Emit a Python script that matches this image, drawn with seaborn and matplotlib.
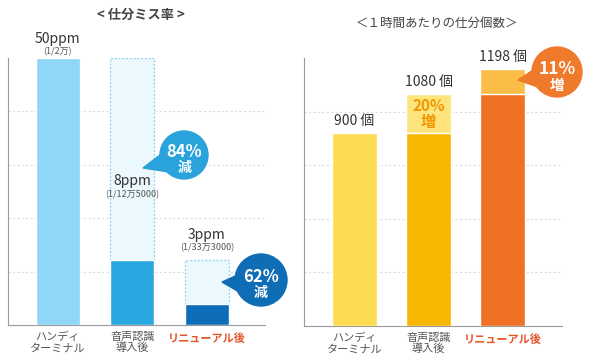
import matplotlib
matplotlib.use("Agg")
import matplotlib.pyplot as plt
import matplotlib.patches as mpatches
import matplotlib.transforms as mtransforms
import pandas as pd
import seaborn as sns

# --- data ---------------------------------------------------------------
categories = ["ハンディ\nターミナル", "音声認識\n導入後", "リニューアル後"]

# miss rate panel (bar heights as drawn, labels as printed)
miss_heights = [50, 12.2, 3.9]
miss_ghost = [0, 50, 12.2]
miss_labels = ["50ppm", "8ppm", "3ppm"]
miss_sub = ["(1/2万)", "(1/12万5000)", "(1/33万3000)"]
miss_cuts = ["84%\n減", "62%\n減"]

# pieces per hour panel
count_values = [900, 1080, 1198]
count_base = [900, 900, 1080]
count_labels = ["900 個", "1080 個", "1198 個"]
count_gains = ["20%\n増", "11%\n増"]

sns.set_theme(style="white")
plt.rcParams["font.family"] = ["Noto Sans CJK JP", "DejaVu Sans"]

fig = plt.figure(figsize=(6, 3.64), dpi=100)
px = mtransforms.Affine2D().scale(1 / 100) + fig.dpi_scale_trans


def P(x, y):
    # pixel position measured from the top-left corner
    return (x, 364 - y)


def style_axes(ax, ymax, grid):
    ax.set_ylim(0, ymax)
    for y in grid:
        ax.axhline(y, color="#dcdcdc", lw=0.8, ls=(0, (2, 2)), zorder=0)
    for s in ["top", "right"]:
        ax.spines[s].set_visible(False)
    ax.spines["left"].set_color("#9a9a9a")
    ax.spines["bottom"].set_color("#9a9a9a")
    ax.spines["left"].set_linewidth(0.8)
    ax.spines["bottom"].set_linewidth(0.8)
    ax.set_yticks([])
    ax.set_xlabel("")
    ax.set_ylabel("")
    ax.tick_params(axis="x", length=0, pad=5)
    ax.set_xticks([0, 1, 2])
    ax.set_xticklabels(categories, fontsize=8, color="#555555", linespacing=1.1)
    lab = ax.get_xticklabels()[2]
    lab.set_color("#e5552a")
    lab.set_fontweight("bold")


def bubble(center, r, tip, color, text, fs=12):
    cx, cy = P(*center)
    tx, ty = P(*tip)
    # tail
    tail = mpatches.Polygon([(tx, ty), (cx - r * 0.55, cy + r * 0.35), (cx - r * 0.35, cy - r * 0.75)],
                            closed=True, color=color, transform=px, zorder=5)
    fig.add_artist(tail)
    fig.add_artist(mpatches.Circle((cx, cy), r, color=color, transform=px, zorder=6))
    pct, kanji = text.split("\n")
    fig.text(cx / 600, (cy + 3) / 364, pct, ha="center", va="center", color="white",
             fontsize=fs, fontweight="bold", zorder=7)
    fig.text(cx / 600, (cy - 13) / 364, kanji, ha="center", va="center", color="white",
             fontsize=fs - 2, fontweight="bold", zorder=7)


# --- left panel: miss rate ---------------------------------------------
ax1 = fig.add_axes([8 / 600, 39 / 364, 257 / 600, 267 / 364])
df_miss = pd.DataFrame({"cat": categories, "h": miss_heights, "ghost": miss_ghost})
sns.barplot(data=df_miss, x="cat", y="ghost", ax=ax1, width=0.59, color="#ebf8fd",
            edgecolor="#8fd0ea", linewidth=0.9, linestyle=(0, (1.5, 1.5)), saturation=1, zorder=2)
sns.barplot(data=df_miss, x="cat", y="h", hue="cat", ax=ax1, width=0.59, legend=False,
            palette=["#8fd7f7", "#2aa6e0", "#0d6db8"], saturation=1, zorder=3)
ax1.set_xlim(-0.67, 2.78)
style_axes(ax1, 50, [10, 20, 30, 40])

# label offsets (points) above each reference height
label_offsets = [(9, 1.5), (52, 44), (13, 5.5)]
for i, (lab, sub) in enumerate(zip(miss_labels, miss_sub)):
    top = max(miss_ghost[i], miss_heights[i]) if i != 1 else miss_heights[i]
    off_main, off_sub = label_offsets[i]
    ax1.annotate(lab, (i, top), xytext=(0, off_main), textcoords="offset points", ha="center",
                 va="bottom", fontsize=10, color="#333333")
    ax1.annotate(sub, (i, top), xytext=(0, off_sub), textcoords="offset points", ha="center",
                 va="bottom", fontsize=6.5, color="#555555")

bubble((184, 155), 24, (143, 168), "#2aa3dd", miss_cuts[0])
bubble((261, 280), 26, (222, 282), "#0f6db5", miss_cuts[1])

fig.text(141 / 600, 1 - 15 / 364, "< 仕分ミス率 >", ha="center", va="center",
         fontsize=9.5, fontweight="bold", color="#444444")

# --- right panel: pieces per hour ---------------------------------------
ax2 = fig.add_axes([304 / 600, 38 / 364, 258 / 600, 268 / 364])
df_cnt = pd.DataFrame({"cat": categories, "v": count_values, "base": count_base})
sns.barplot(data=df_cnt, x="cat", y="v", hue="cat", ax=ax2, width=0.6, legend=False,
            palette=["#fddc52", "#fde47c", "#fbbd46"], saturation=1, zorder=2)
sns.barplot(data=df_cnt, x="cat", y="base", hue="cat", ax=ax2, width=0.6, legend=False,
            palette=["#fddc52", "#f7b600", "#f07024"], saturation=1, zorder=3)
ax2.set_xlim(-0.68, 2.8)
style_axes(ax2, 1250, [250, 500, 750, 1000])

for i in (1, 2):
    ax2.hlines(count_base[i], i - 0.3, i + 0.3, colors="white", lw=0.9,
               linestyles=(0, (2, 1.5)), alpha=0.8, zorder=4)

for i, (lab, v) in enumerate(zip(count_labels, count_values)):
    ax2.annotate(lab, (i, v), xytext=(0, 4), textcoords="offset points", ha="center",
                 va="bottom", fontsize=10, color="#333333")

ax2.text(1, (count_values[1] + count_base[1]) / 2, count_gains[0], ha="center", va="center",
         fontsize=11, fontweight="bold", color="#f29600", linespacing=1.0, zorder=5)

bubble((557, 72), 25, (518, 80), "#f07a2c", count_gains[1], fs=12.5)

fig.text(437 / 600, 1 - 23 / 364, "＜１時間あたりの仕分個数＞", ha="center", va="center",
         fontsize=9, color="#444444")

fig.savefig("out.png", dpi=100, facecolor="white")
